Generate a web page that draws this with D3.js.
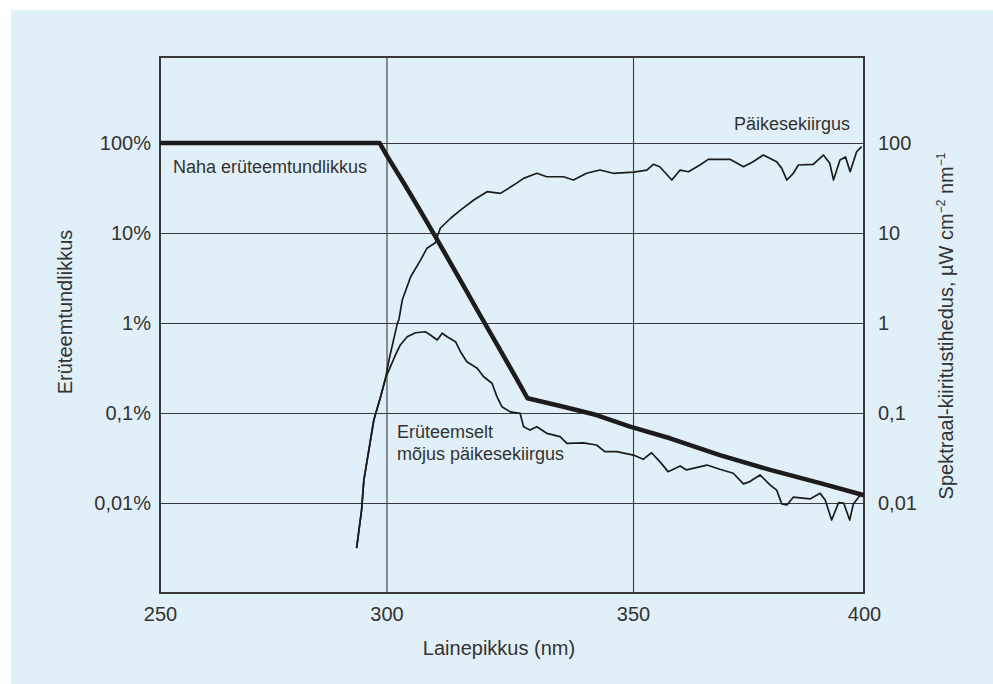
<!DOCTYPE html>
<html>
<head>
<meta charset="utf-8">
<script src="https://cdn.jsdelivr.net/npm/d3@7"></script>
<style>
  html, body { margin: 0; padding: 0; background: #ffffff; }
  svg { display: block; }
  text { font-family: "Liberation Sans", Arial, Helvetica, sans-serif; fill: #333333; }
</style>
</head>
<body>
<svg id="chart" width="993" height="684"></svg>
<script>
// ---------------- DATA ----------------
// x axis ticks (wavelength, nm)
const xTicks = [250, 300, 350, 400];
// left axis ticks (erythemal sensitivity, %)
const leftTickValues = [100, 10, 1, 0.1, 0.01];
const leftTickLabels = ["100%", "10%", "1%", "0,1%", "0,01%"];
// right axis ticks (spectral irradiance, µW cm-2 nm-1)
const rightTickValues = [100, 10, 1, 0.1, 0.01];
const rightTickLabels = ["100", "10", "1", "0,1", "0,01"];

// Skin erythemal sensitivity (thick line), %
const sensNm  = [250, 298.5, 300.1, 303.5, 306.9, 309.6, 312.3, 315.6, 319.0, 322.4, 326.4, 328.6, 335.9, 342.6, 349.4, 358.0, 368.8, 379.7, 390.5, 400];
const sensVal = [100, 100, 72, 36, 17.5, 9.8, 5.4, 2.6, 1.22, 0.58, 0.24, 0.146, 0.1175, 0.095, 0.0705, 0.0524, 0.0341, 0.0233, 0.0166, 0.0122];

// Solar spectral irradiance (thin line), µW cm-2 nm-1
const solarNm  = [293.4, 294.5, 295.0, 296.1, 297.2, 298.7, 299.8, 300.5, 302.2, 302.5, 303.2, 304.9, 306.9, 308.2, 309.9, 310.9, 313.0, 315.0, 317.7, 320.4, 323.1, 325.8, 327.8, 330.5, 332.5, 335.9, 337.9, 340.6, 343.3, 346.0, 350.1, 353.0, 354.4, 355.8, 358.4, 360.2, 362.0, 364.5, 366.3, 371.0, 373.9, 376.0, 378.2, 381.1, 382.2, 383.3, 384.7, 385.8, 389.0, 391.2, 392.6, 393.4, 394.8, 396.0, 397.0, 398.4, 399.5];
const solarVal = [0.00316, 0.00836, 0.018, 0.0388, 0.0836, 0.152, 0.245, 0.388, 0.99, 1.08, 1.80, 3.27, 5.0, 6.76, 7.8, 11.3, 14.6, 18.0, 23.3, 28.8, 27.6, 34.1, 40.5, 46.1, 42.2, 42.2, 38.8, 46.1, 50.1, 46.1, 47.6, 50.1, 58.0, 54.5, 38.8, 50.1, 48.0, 57.0, 65.9, 65.9, 54.5, 62.0, 73.6, 62.0, 52.3, 38.8, 46.1, 57.0, 58.0, 73.6, 59.5, 38.8, 64.7, 70.0, 48.0, 80.0, 91.0];

// Erythemally effective solar irradiance (thin line), µW cm-2 nm-1
const effNm  = [293.4, 294.5, 295.0, 296.1, 297.2, 298.7, 299.8, 300.5, 301.8, 302.8, 304.2, 305.9, 307.9, 308.9, 310.3, 311.3, 312.3, 314.0, 315.0, 316.3, 318.4, 319.7, 321.4, 322.4, 323.4, 325.1, 327.1, 327.8, 329.1, 330.5, 332.5, 335.2, 336.6, 339.9, 342.6, 344.3, 346.7, 350.1, 352.2, 354.0, 355.8, 357.6, 360.2, 361.6, 366.0, 368.8, 371.7, 373.9, 375.3, 377.5, 379.7, 381.1, 382.2, 383.3, 384.7, 388.3, 390.5, 391.6, 393.0, 394.5, 395.6, 396.9, 397.7, 399.2];
const effVal = [0.00316, 0.00836, 0.018, 0.0388, 0.0836, 0.152, 0.245, 0.30, 0.44, 0.57, 0.705, 0.78, 0.80, 0.736, 0.648, 0.77, 0.705, 0.62, 0.48, 0.372, 0.314, 0.253, 0.214, 0.152, 0.1175, 0.103, 0.0993, 0.0705, 0.0647, 0.0705, 0.0595, 0.0546, 0.046, 0.0466, 0.0441, 0.0372, 0.0372, 0.0341, 0.0306, 0.0362, 0.0288, 0.0223, 0.0258, 0.0233, 0.0264, 0.0237, 0.0214, 0.0163, 0.0173, 0.0205, 0.0158, 0.0139, 0.00975, 0.0095, 0.0116, 0.0111, 0.0128, 0.0108, 0.00647, 0.0101, 0.0100, 0.00647, 0.00975, 0.0123];

// ---------------- LAYOUT ----------------
const svg = d3.select("#chart");
const W = 993, H = 684;
const plot = { left: 160, top: 57, right: 864, bottom: 593 };
const bgColor = "#e1eff8";
const ink = "#1c1c1c";
const gridColor = "#3a3a3a";

svg.append("rect").attr("x", 11).attr("y", 10).attr("width", W - 11).attr("height", H - 10).attr("fill", bgColor);

const x = d3.scaleLinear().domain([250, 300, 350, 400]).range([plot.left, 386.5, 633, plot.right]);
const yTopVal = Math.pow(10, 2.956);
const yLeft = d3.scaleLog().domain([0.001, yTopVal]).range([plot.bottom, plot.top]);
const yRight = d3.scaleLog().domain([0.001, yTopVal]).range([plot.bottom, plot.top]);

const w = plot.right - plot.left, h = plot.bottom - plot.top;

// gridlines
const gH = svg.append("g").attr("transform", `translate(${plot.left},0)`)
  .call(d3.axisLeft(yLeft).tickValues(leftTickValues).tickSize(-w).tickFormat(""));
gH.select(".domain").remove();
gH.selectAll("line").attr("stroke", gridColor).attr("stroke-width", 1.1);

const gV = svg.append("g").attr("transform", `translate(0,${plot.bottom})`)
  .call(d3.axisBottom(x).tickValues([300, 350]).tickSize(-h).tickFormat(""));
gV.select(".domain").remove();
gV.selectAll("line").attr("stroke", gridColor).attr("stroke-width", 1.1);

// frame
svg.append("rect").attr("x", plot.left).attr("y", plot.top).attr("width", w).attr("height", h)
  .attr("fill", "none").attr("stroke", "#3a3a3a").attr("stroke-width", 2);

// axes labels
const tickFont = 20;
const annFont = 18;
const titleFont = 20;
const axL = svg.append("g").attr("transform", `translate(${plot.left},0)`)
  .call(d3.axisLeft(yLeft).tickValues(leftTickValues).tickSize(0).tickPadding(9)
    .tickFormat((d, i) => leftTickLabels[i]));
const axR = svg.append("g").attr("transform", `translate(${plot.right},0)`)
  .call(d3.axisRight(yRight).tickValues(rightTickValues).tickSize(0).tickPadding(14)
    .tickFormat((d, i) => rightTickLabels[i]));
const axB = svg.append("g").attr("transform", `translate(0,${plot.bottom})`)
  .call(d3.axisBottom(x).tickValues(xTicks).tickSize(0).tickPadding(14).tickFormat(d3.format("d")));
[axL, axR, axB].forEach(g => {
  g.select(".domain").remove();
  g.selectAll("text").attr("font-size", tickFont).attr("font-family", null).style("fill", "#333");
});

// lines
const line = (xs, ys, ys_scale) => d3.line()
  .x((d, i) => x(xs[i]))
  .y((d, i) => ys_scale(ys[i]))(xs);

svg.append("path").attr("d", line(solarNm, solarVal, yRight))
  .attr("fill", "none").attr("stroke", ink).attr("stroke-width", 1.7).attr("stroke-linejoin", "round");
svg.append("path").attr("d", line(effNm, effVal, yRight))
  .attr("fill", "none").attr("stroke", ink).attr("stroke-width", 1.7).attr("stroke-linejoin", "round");
svg.append("path").attr("d", line(sensNm, sensVal, yLeft))
  .attr("fill", "none").attr("stroke", ink).attr("stroke-width", 4.5).attr("stroke-linejoin", "round");

// annotations
svg.append("text").attr("x", 850).attr("y", 130).attr("text-anchor", "end")
  .attr("font-size", annFont).text("Päikesekiirgus");
svg.append("text").attr("x", 173).attr("y", 173).attr("font-size", annFont).text("Naha erüteemtundlikkus");
svg.append("text").attr("x", 397).attr("y", 438).attr("font-size", annFont).text("Erüteemselt");
svg.append("text").attr("x", 397).attr("y", 460).attr("font-size", annFont).text("mõjus päikesekiirgus");

// axis titles
svg.append("text").attr("x", 499).attr("y", 655).attr("text-anchor", "middle")
  .attr("font-size", titleFont).text("Lainepikkus (nm)");
svg.append("text").attr("transform", "translate(72,312) rotate(-90)").attr("text-anchor", "middle")
  .attr("font-size", titleFont).text("Erüteemtundlikkus");
const rt = svg.append("text").attr("transform", "translate(953,326) rotate(-90)").attr("text-anchor", "middle")
  .attr("font-size", titleFont);
rt.append("tspan").text("Spektraal-kiiritustihedus, µW cm");
rt.append("tspan").attr("dy", -8).attr("font-size", 12).text("−2");
rt.append("tspan").attr("dy", 8).text(" nm");
rt.append("tspan").attr("dy", -8).attr("font-size", 12).text("−1");
</script>
</body>
</html>
